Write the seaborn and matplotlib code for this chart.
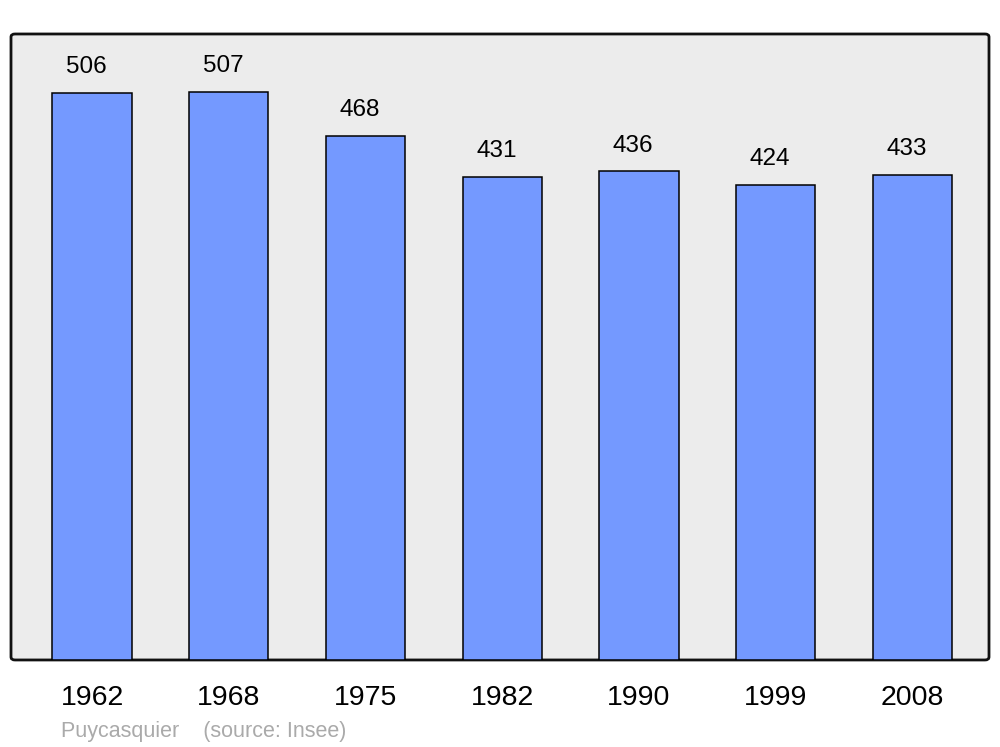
import pandas as pd
import matplotlib
matplotlib.use("Agg")
import matplotlib.pyplot as plt
import seaborn as sns
from matplotlib.patches import FancyBboxPatch

# population data
years = ['1962', '1968', '1975', '1982', '1990', '1999', '2008']
population = [506, 507, 468, 431, 436, 424, 433]

df = pd.DataFrame({'year': years, 'population': population})

sns.set_theme(style="white")
plt.rcParams['font.family'] = ['Liberation Sans', 'DejaVu Sans']

fig = plt.figure(figsize=(10, 7.47), dpi=100)
ax = fig.add_axes([0.011, 0.1165, 0.978, 0.838])
ax.set_facecolor('none')
ax.set_zorder(2)

# rounded background frame
frame = FancyBboxPatch((0.011, 0.1165), 0.978, 0.838,
                       boxstyle="round,pad=0,rounding_size=0.004",
                       transform=fig.transFigure, facecolor='#ececec',
                       edgecolor='#111111', linewidth=2, zorder=-1)
fig.patches.append(frame)

sns.barplot(data=df, x='year', y='population', color='#7499ff',
            saturation=1, width=0.58, edgecolor='black', linewidth=1.1, ax=ax)

# value labels sit a bit left of the bar centre, like the original
for i, v in enumerate(population):
    ax.annotate(str(v), (i, v), xytext=(-4.3, 18.5), textcoords='offset points',
                ha='center', va='center', fontsize=17.5, color='black')

ax.set_xlim(-0.593, 6.56)
ax.set_ylim(0, 558.6)
ax.set_yticks([])
ax.set_xlabel('')
ax.set_ylabel('')
ax.tick_params(axis='x', length=0, labelsize=20.5, pad=18, colors='black')
for s in ax.spines.values():
    s.set_visible(False)

fig.text(0.061, 0.021, 'Puycasquier    (source: Insee)', color='#aaaaaa',
         fontsize=15.5, ha='left', va='center')

fig.savefig('out.png', dpi=100)
